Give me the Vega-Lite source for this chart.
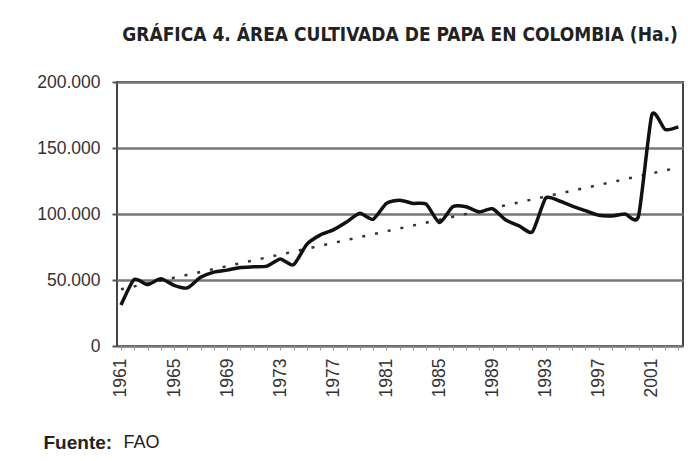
{
  "$schema": "https://vega.github.io/schema/vega-lite/v6.json",
  "width": 566,
  "height": 264,
  "autosize": {"type": "none"},
  "padding": {"left": 117, "top": 82, "right": 14, "bottom": 115},
  "background": "white",
  "title": {
    "text": "GRÁFICA 4. ÁREA CULTIVADA DE PAPA EN COLOMBIA (Ha.)",
    "anchor": "middle",
    "font": "Liberation Sans Narrow, DejaVu Sans Condensed, Liberation Sans",
    "fontSize": 19,
    "fontWeight": "bold",
    "color": "#222",
    "offset": 28
  },
  "data": {
    "values": [
      {"year": 1961, "area": 31000},
      {"year": 1962, "area": 50500},
      {"year": 1963, "area": 46500},
      {"year": 1964, "area": 51000},
      {"year": 1965, "area": 46000},
      {"year": 1966, "area": 44000},
      {"year": 1967, "area": 52000},
      {"year": 1968, "area": 56000},
      {"year": 1969, "area": 57500},
      {"year": 1970, "area": 59500},
      {"year": 1971, "area": 60000},
      {"year": 1972, "area": 60500},
      {"year": 1973, "area": 66000},
      {"year": 1974, "area": 61500},
      {"year": 1975, "area": 77000},
      {"year": 1976, "area": 84000},
      {"year": 1977, "area": 88000},
      {"year": 1978, "area": 94000},
      {"year": 1979, "area": 100500},
      {"year": 1980, "area": 96000},
      {"year": 1981, "area": 108000},
      {"year": 1982, "area": 110500},
      {"year": 1983, "area": 108000},
      {"year": 1984, "area": 107500},
      {"year": 1985, "area": 93500},
      {"year": 1986, "area": 105500},
      {"year": 1987, "area": 105500},
      {"year": 1988, "area": 101500},
      {"year": 1989, "area": 104000},
      {"year": 1990, "area": 95500},
      {"year": 1991, "area": 91000},
      {"year": 1992, "area": 86500},
      {"year": 1993, "area": 112000},
      {"year": 1994, "area": 110000},
      {"year": 1995, "area": 106000},
      {"year": 1996, "area": 102500},
      {"year": 1997, "area": 99000},
      {"year": 1998, "area": 98500},
      {"year": 1999, "area": 100000},
      {"year": 2000, "area": 98500},
      {"year": 2001, "area": 175000},
      {"year": 2002, "area": 164000},
      {"year": 2003, "area": 166000}
    ]
  },
  "encoding": {
    "x": {
      "field": "year",
      "type": "quantitative",
      "scale": {"domain": [1960.7, 2003.35], "nice": false, "zero": false},
      "axis": {
        "title": "Fuente:",
        "titleX": -74,
        "titleY": 96,
        "titleAlign": "left",
        "titleAnchor": null,
        "titleBaseline": "middle",
        "titleFont": "Liberation Sans",
        "titleFontSize": 19,
        "titleFontWeight": "bold",
        "titleColor": "#222",
        "values": [1961,1962,1963,1964,1965,1966,1967,1968,1969,1970,1971,1972,1973,1974,1975,1976,1977,1978,1979,1980,1981,1982,1983,1984,1985,1986,1987,1988,1989,1990,1991,1992,1993,1994,1995,1996,1997,1998,1999,2000,2001,2002,2003],
        "labelExpr": "(datum.value - 1961) % 4 === 0 ? '' + datum.value : ''",
        "labelAngle": -90,
        "labelAlign": "right",
        "labelBaseline": "middle",
        "labelPadding": 8,
        "labelFont": "Liberation Sans",
        "labelFontSize": 17.5,
        "labelColor": "#333",
        "labelOverlap": false,
        "labelFlush": false,
        "grid": false,
        "domain": false,
        "ticks": true,
        "tickSize": 4,
        "tickColor": "#999",
        "tickWidth": 1
      }
    },
    "y": {
      "field": "area",
      "type": "quantitative",
      "scale": {"domain": [0, 200000], "nice": false},
      "axis": {
        "title": "FAO",
        "titleAngle": 0,
        "titleX": 6,
        "titleY": 360,
        "titleAlign": "left",
        "titleAnchor": null,
        "titleBaseline": "middle",
        "titleFont": "Liberation Sans",
        "titleFontSize": 18,
        "titleFontWeight": "normal",
        "titleColor": "#222",
        "values": [0, 50000, 100000, 150000, 200000],
        "format": ",d",
        "labelFont": "Liberation Sans",
        "labelFontSize": 17.5,
        "labelColor": "#333",
        "labelPadding": 12,
        "domain": false,
        "ticks": true,
        "tickSize": 5,
        "tickColor": "#555",
        "tickWidth": 2,
        "grid": true,
        "gridColor": "#777",
        "gridWidth": 2.5
      }
    }
  },
  "layer": [
    {
      "transform": [{"regression": "area", "on": "year", "extent": [1961, 2003]}],
      "mark": {"type": "line", "color": "#333", "strokeWidth": 2.5, "strokeDash": [3, 10], "clip": true}
    },
    {
      "mark": {"type": "line", "color": "#111", "strokeWidth": 3.5, "interpolate": "cardinal", "tension": 0.4, "clip": true}
    }
  ],
  "config": {
    "locale": {"number": {"decimal": ",", "thousands": ".", "grouping": [3], "currency": ["$", ""]}},
    "view": {"stroke": "#444", "strokeWidth": 2}
  }
}
